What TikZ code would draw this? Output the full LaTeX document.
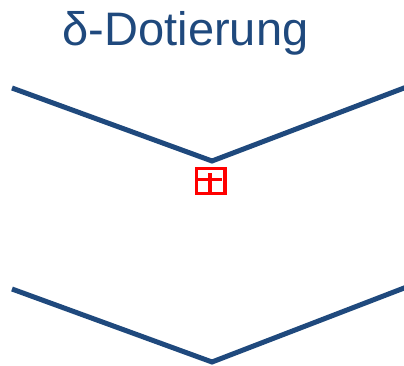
\documentclass[tikz,border=0pt]{standalone}
\usepackage{fontspec}
\setmainfont{Liberation Sans}
\definecolor{bandblue}{RGB}{31,73,125}
\definecolor{dopred}{RGB}{255,0,0}
\begin{document}
\begin{tikzpicture}[x=1pt,y=-1pt,
  band/.style={draw=bandblue,line width=5pt},
  dopant/.style={draw=dopred,line width=3.3pt},
  titletext/.style={text=bandblue,inner sep=0pt,font=\fontsize{47}{50}\selectfont}]
\useasboundingbox (0,0) rectangle (404,366);
\begin{scope}
\clip (0,0) rectangle (404,366);
% title
\node[titletext,anchor=base] (title) at (185.5,46) {δ-Dotierung};
% conduction band edge with the dip
\coordinate (cbL) at (12,88);
\coordinate (cbV) at (212,161);
\coordinate (cbR) at (414,84.2);
\draw[band] (cbL) -- (cbV) -- (cbR);
% valence band edge with the dip
\coordinate (vbL) at (12,289);
\coordinate (vbV) at (212,362);
\coordinate (vbR) at (414,284.2);
\draw[band] (vbL) -- (vbV) -- (vbR);
% ionised donor sheet
\node[dopant,minimum width=28.5pt,minimum height=25.2pt,inner sep=0pt] (donor) at (210.8,180.9) {};
\coordinate (hL) at (198.3,179.3);
\coordinate (hR) at (221.7,179.3);
\coordinate (vT) at (210,173.3);
\coordinate (vB) at (210,191.7);
\draw[dopant] (hL) -- (hR);
\draw[dopant] (vT) -- (vB);
\end{scope}
\end{tikzpicture}
\end{document}
